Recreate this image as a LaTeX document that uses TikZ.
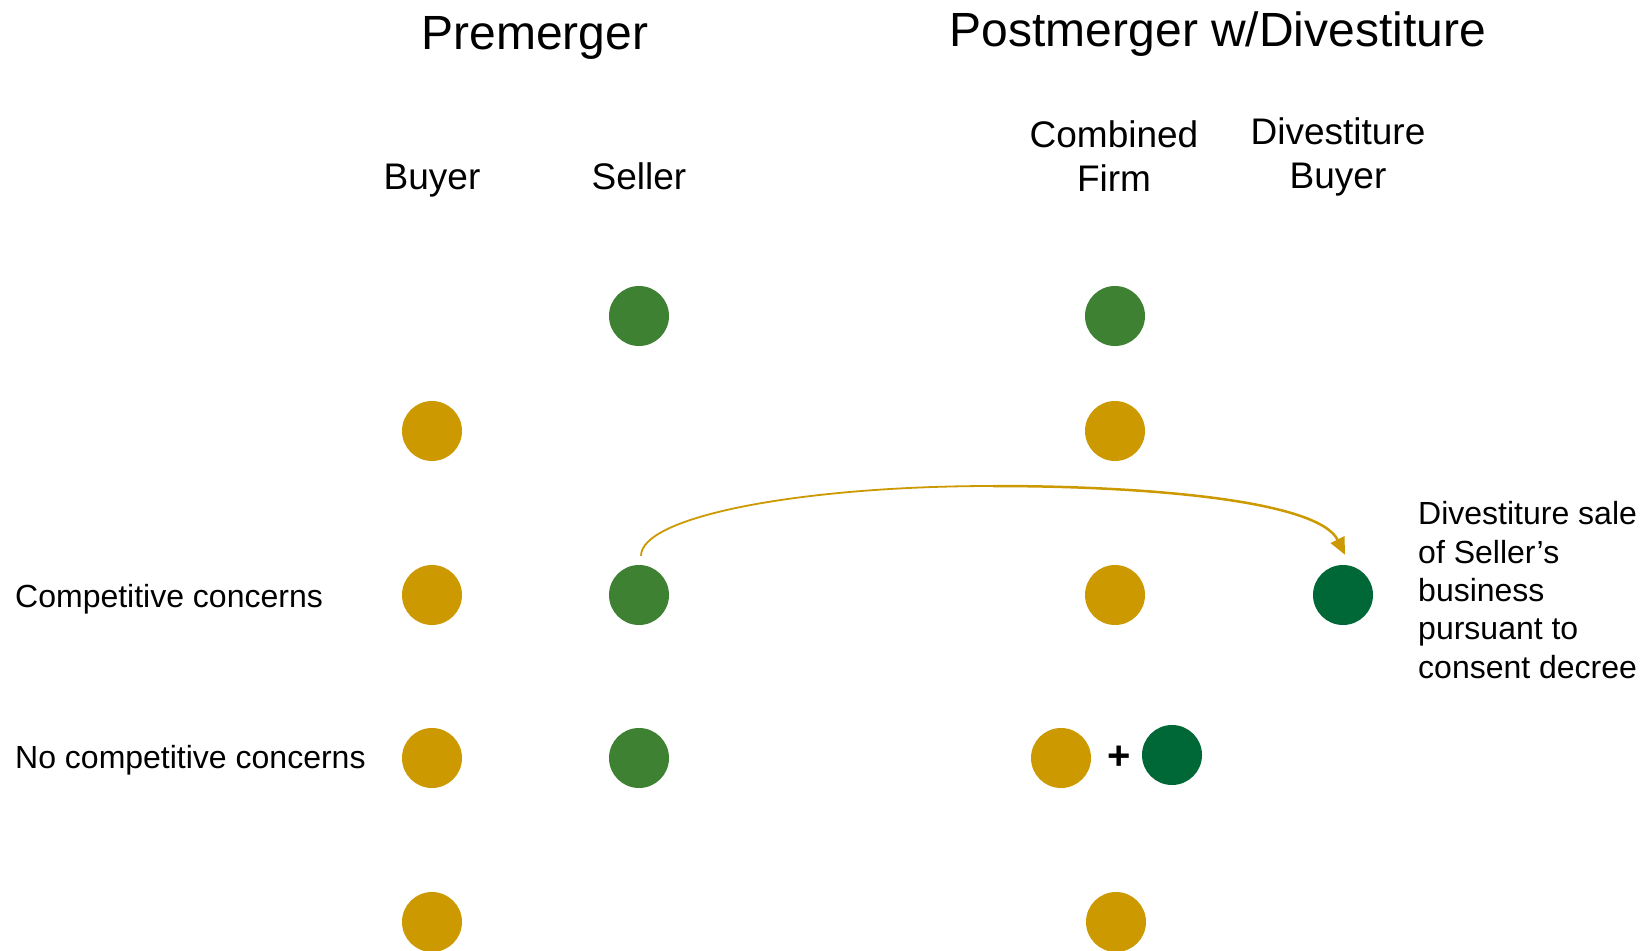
\documentclass[tikz,border=0pt]{standalone}
\usepackage{fontspec}
\setmainfont{Liberation Sans}
\usetikzlibrary{arrows.meta,calc}
\definecolor{gold}{HTML}{CC9900}
\definecolor{midgreen}{HTML}{3E8133}
\definecolor{darkgreen}{HTML}{006837}
\begin{document}
\begin{tikzpicture}[x=1pt,y=-1pt,
  dot/.style={circle,inner sep=0pt,minimum size=60pt,draw=none},
  golddot/.style={dot,fill=gold},
  greendot/.style={dot,fill=midgreen},
  dkdot/.style={dot,fill=darkgreen},
  heading/.style={anchor=base,inner sep=0pt,font=\fontsize{48}{56}\selectfont},
  collabel/.style={anchor=base,inner sep=0pt,align=center,font=\fontsize{37}{44}\selectfont},
  rowlabel/.style={anchor=base west,inner sep=0pt,font=\fontsize{32}{38}\selectfont},
  arrowline/.style={draw=gold,line width=1.8pt},
  arrowline2/.style={draw=gold,line width=2.5pt,-{Triangle[length=17pt,width=15pt]}}
]
\useasboundingbox (0,0) rectangle (1643,950);
\clip (0,0) rectangle (1643,950);
\fill[white] (0,0) rectangle (1643,950);

% headings
\node[heading] (hpre) at (535,50) {Premerger};
\node[heading] (hpost) at (1218,47) {Postmerger w/Divestiture};

% column labels
\node[collabel] (lbuyer) at (432,189) {Buyer};
\node[collabel] (lseller) at (639,189) {Seller};
\node[collabel] (lcomb1) at (1114,147) {Combined};
\node[collabel] (lcomb2) at (1114,191) {Firm};
\node[collabel] (ldiv1) at (1338,144) {Divestiture};
\node[collabel] (ldiv2) at (1338,188) {Buyer};

% row labels
\node[rowlabel] (rcomp) at (15,607) {Competitive concerns};
\node[rowlabel] (rnocomp) at (15,768) {No competitive concerns};

% premerger dots
\node[greendot] (s1) at (639,316) {};
\node[golddot] (b2) at (432,431) {};
\node[golddot] (b3) at (432,595) {};
\node[greendot] (s3) at (639,595) {};
\node[golddot] (b4) at (432,758) {};
\node[greendot] (s4) at (639,758) {};
\node[golddot] (b5) at (432,922) {};

% postmerger dots
\node[greendot] (c1) at (1115,316) {};
\node[golddot] (c2) at (1115,431) {};
\node[golddot] (c3) at (1115,595) {};
\node[dkdot] (d3) at (1343,595) {};
\node[golddot] (c4a) at (1061,758) {};
\node[inner sep=0pt,font=\fontsize{40}{44}\selectfont\bfseries] (plus) at (1119,758) {+};
\node[dkdot] (c4b) at (1172,755) {};
\node[golddot] (c5) at (1116,922) {};

% note (base anchor = baseline of the last line)
\node[anchor=base west,inner sep=0pt,align=left,font=\fontsize{32}{38.3}\selectfont] (note) at (1418,678)
  {Divestiture sale\\of Seller’s\\business\\pursuant to\\consent decree};

% arrow
\coordinate (ast) at ($(s3.north)+(2,-9)$);
\coordinate (apk) at (993,486);
\coordinate (aen) at ($(d3.north)+(2,-10)$);
\draw[arrowline] (ast) .. controls +(0,-39) and +(-194,0) .. (apk);
\draw[arrowline2] (apk) .. controls +(157,0) and +(-26.6,-54) .. (aen);
\end{tikzpicture}
\end{document}
